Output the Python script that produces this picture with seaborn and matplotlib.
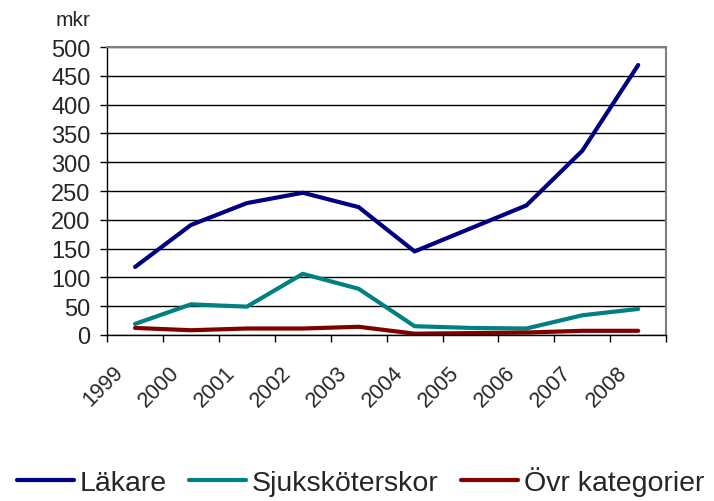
import pandas as pd
import seaborn as sns
import matplotlib.pyplot as plt
from matplotlib.ticker import FixedLocator
from matplotlib.transforms import ScaledTranslation

years = ['1999', '2000', '2001', '2002', '2003', '2004', '2005', '2006', '2007', '2008']
lakare = [118, 191, 229, 247, 222, 145, 185, 225, 320, 469]
sjukskoterskor = [19, 53, 49, 106, 80, 15, 12, 11, 34, 45]
ovr_kategorier = [12, 8, 11, 11, 14, 2, 3, 4, 7, 7]
series_names = ['Läkare', 'Sjuksköterskor', 'Övr kategorier']
colors = ['#000080', '#008080', '#800000']


def main():
    df = pd.DataFrame({'År': years, 'Läkare': lakare,
                       'Sjuksköterskor': sjukskoterskor,
                       'Övr kategorier': ovr_kategorier})
    df_long = df.melt(id_vars='År', var_name='Kategori', value_name='mkr')

    sns.set_style('white')
    plt.rcParams['font.family'] = ['Liberation Sans', 'DejaVu Sans']

    fig = plt.figure(figsize=(7.14, 5.02), dpi=100)
    ax = fig.add_axes([0.150, 0.331, 0.783, 0.573])

    sns.lineplot(data=df_long, x='År', y='mkr', hue='Kategori',
                 hue_order=series_names, palette=colors, linewidth=3,
                 sort=False, ax=ax, legend=True)

    ax.set_xlim(-0.5, len(years) - 0.5)
    ax.set_ylim(0, 500)
    ax.set_yticks(range(0, 501, 50))
    ax.yaxis.grid(True, color='black', linewidth=1)
    ax.set_axisbelow(True)
    ax.set_xlabel('')
    ax.set_ylabel('')

    ax.set_xticks(range(len(years)))
    ax.set_xticklabels(years, rotation=45, ha='right', rotation_mode='anchor')
    ax.xaxis.set_minor_locator(FixedLocator([i - 0.5 for i in range(len(years) + 1)]))
    ax.tick_params(axis='x', which='major', length=0, pad=19, labelsize=15.5)
    ax.tick_params(axis='x', which='minor', length=5, width=1, color='black',
                   direction='out', bottom=True)
    ax.tick_params(axis='y', length=5, width=1, color='black', direction='out',
                   left=True, labelsize=17, pad=7)
    shift = ScaledTranslation(-0.22, 0, fig.dpi_scale_trans)
    for lab in ax.get_xticklabels():
        lab.set_transform(lab.get_transform() + shift)

    for side in ['left', 'bottom']:
        ax.spines[side].set_color('black')
        ax.spines[side].set_linewidth(1)
    for side in ['top', 'right']:
        ax.spines[side].set_color('#808080')
        ax.spines[side].set_linewidth(1.5)

    fig.text(0.126, 0.96, 'mkr', ha='right', va='center', fontsize=15)

    handles, labels = ax.get_legend_handles_labels()
    ax.get_legend().remove()
    fig.legend(handles, labels, loc='center', ncol=3, frameon=False,
               fontsize=20.5, bbox_to_anchor=(0.505, 0.04), handlelength=2.0,
               handletextpad=0.2, columnspacing=0.8, borderpad=0)

    fig.savefig('out.png', dpi=100)


if __name__ == '__main__':
    main()
